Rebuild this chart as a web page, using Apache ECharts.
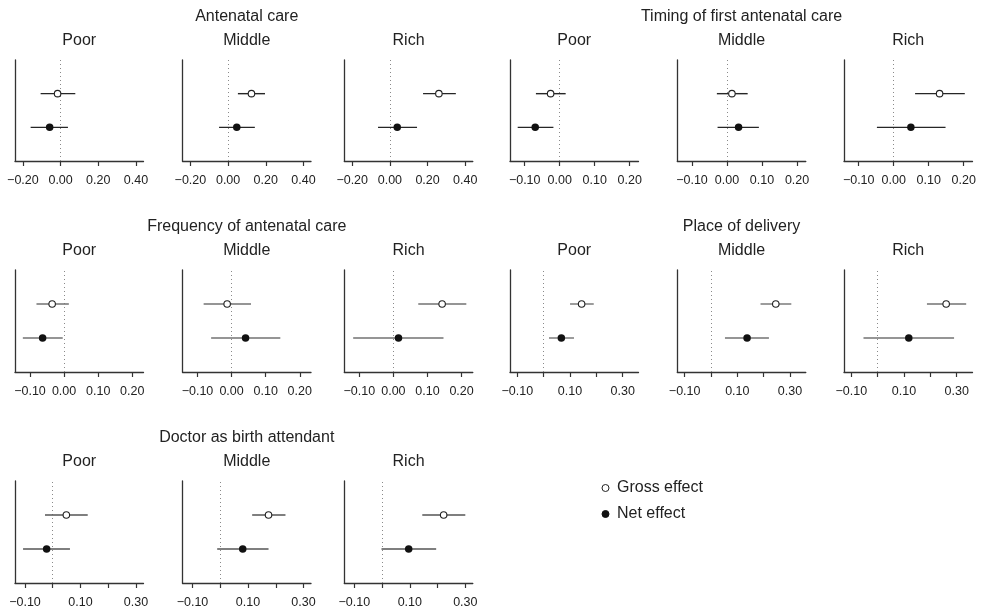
<!DOCTYPE html>
<html>
<head>
<meta charset="utf-8">
<script src="https://cdn.jsdelivr.net/npm/echarts@6/dist/echarts.min.js"></script>
<style>
html,body{margin:0;padding:0;background:#fff;}
#chart{width:985px;height:613px;}
</style>
</head>
<body>
<div id="chart"></div>
<script>
// ---- data ----
const outcomes = ["Antenatal care", "Timing of first antenatal care", "Frequency of antenatal care", "Place of delivery", "Doctor as birth attendant"];
const wealth = ["Poor", "Middle", "Rich"];
// order: outcome-major, wealth-minor (15 panels)
const grossEst = [-0.016, 0.124, 0.260,  -0.026, 0.014, 0.131,  -0.035, -0.013, 0.143,  0.144, 0.246, 0.260,  0.049, 0.174, 0.222];
const grossLo  = [-0.106, 0.052, 0.176,  -0.068, -0.029, 0.061, -0.081, -0.082, 0.073,  0.100, 0.188, 0.187, -0.028, 0.115, 0.145];
const grossHi  = [ 0.078, 0.196, 0.350,   0.017, 0.059, 0.203,   0.014, 0.057, 0.214,   0.190, 0.305, 0.336,  0.126, 0.235, 0.300];
const netEst   = [-0.058, 0.046, 0.039,  -0.070, 0.033, 0.049,  -0.063, 0.041, 0.015,   0.067, 0.137, 0.118, -0.022, 0.081, 0.096];
const netLo    = [-0.159, -0.048, -0.063, -0.120, -0.027, -0.048, -0.121, -0.060, -0.118, 0.020, 0.053, -0.054, -0.107, -0.011, -0.002];
const netHi    = [ 0.039, 0.142, 0.144,  -0.018, 0.091, 0.148,  -0.004, 0.143, 0.147,   0.115, 0.220, 0.290,  0.062, 0.174, 0.195];
// tick values per outcome
const tickValues = [
  [-0.2, 0, 0.2, 0.4],
  [-0.1, 0, 0.1, 0.2],
  [-0.1, 0, 0.1, 0.2],
  [-0.1, 0, 0.1, 0.2, 0.3],
  [-0.1, 0, 0.1, 0.2, 0.3]
];
const tickLabels = [
  [-0.2, 0, 0.2, 0.4],
  [-0.1, 0, 0.1, 0.2],
  [-0.1, 0, 0.1, 0.2],
  [-0.1, 0.1, 0.3],
  [-0.1, 0.1, 0.3]
];
const xRanges = [
  [-0.242, 0.440],
  [-0.142, 0.225],
  [-0.144, 0.233],
  [-0.128, 0.360],
  [-0.136, 0.327]
];
const legendNames = ["Gross effect", "Net effect"];

// ---- layout ----
const colLeft = [15, 182.5, 344.3, 510, 677.3, 844];
const panelW = 128.5;
const rowTop = [60, 270, 481];
const rowH = [101, 102, 102];
const ciColor = ['#262626', '#262626', '#727272', '#727272', '#555555'];
const FONT = 'Liberation Sans, Arial, Helvetica, sans-serif';

const grids = [], xAxes = [], yAxes = [], series = [], graphics = [];
function fmt(v) {
  const s = Math.abs(v).toFixed(2);
  return (v < -1e-9 ? '\u2212' : '') + s;
}
for (let o = 0; o < outcomes.length; o++) {
  const row = Math.floor(o / 2);
  const colBase = (o % 2) * 3;
  const midX = colLeft[colBase + 1] + panelW / 2;
  graphics.push({
    type: 'text', x: midX, y: rowTop[row] - 43,
    style: { text: outcomes[o], font: '16px ' + FONT, fill: '#222', align: 'center', verticalAlign: 'middle' }
  });
  for (let w = 0; w < 3; w++) {
    const i = o * 3 + w;
    const col = colBase + w;
    grids.push({ left: colLeft[col], top: rowTop[row], width: panelW, height: rowH[row], containLabel: false });
    graphics.push({
      type: 'text', x: colLeft[col] + panelW / 2, y: rowTop[row] - 19,
      style: { text: wealth[w], font: '16px ' + FONT, fill: '#222', align: 'center', verticalAlign: 'middle' }
    });
    xAxes.push({
      type: 'value', gridIndex: i, min: xRanges[o][0], max: xRanges[o][1],
      axisLine: { show: true, onZero: false, lineStyle: { color: '#333', width: 1.3 } },
      axisTick: { show: true, length: 5, customValues: tickValues[o], lineStyle: { color: '#333', width: 1.2 } },
      axisLabel: { show: true, customValues: tickLabels[o], formatter: fmt, margin: 13, color: '#222', fontSize: 12.5, fontFamily: FONT, showMinLabel: true, showMaxLabel: true, hideOverlap: false },
      splitLine: { show: false }
    });
    yAxes.push({
      type: 'value', gridIndex: i, min: 0, max: 3,
      axisLine: { show: true, onZero: false, lineStyle: { color: '#333', width: 1.3 } },
      axisTick: { show: false }, axisLabel: { show: false }, splitLine: { show: false }
    });
    series.push({
      type: 'custom', xAxisIndex: i, yAxisIndex: i, z: 2, silent: true,
      data: [[grossLo[i], grossHi[i], 2], [netLo[i], netHi[i], 1]],
      encode: { x: [0, 1], y: 2 },
      renderItem: function (params, api) {
        const a = api.coord([api.value(0), api.value(2)]);
        const b = api.coord([api.value(1), api.value(2)]);
        return { type: 'line', shape: { x1: a[0], y1: a[1], x2: b[0], y2: b[1] }, style: { stroke: ciColor[o], lineWidth: 1.4 } };
      }
    });
    series.push({
      type: 'scatter', name: legendNames[0], xAxisIndex: i, yAxisIndex: i, z: 3,
      symbol: 'circle', symbolSize: 6.5,
      itemStyle: { color: '#fff', borderColor: '#222', borderWidth: 1.1, opacity: 1 },
      data: [[grossEst[i], 2]],
      markLine: {
        silent: true, symbol: ['none', 'none'], label: { show: false }, z: 1,
        lineStyle: { type: [1, 3], color: '#8a8a8a', width: 1 },
        data: [{ xAxis: 0 }]
      }
    });
    series.push({
      type: 'scatter', name: legendNames[1], xAxisIndex: i, yAxisIndex: i, z: 3,
      symbol: 'circle', symbolSize: 7.5,
      itemStyle: { color: '#111', borderColor: '#111', borderWidth: 0, opacity: 1 },
      data: [[netEst[i], 1]]
    });
  }
}

const chart = echarts.init(document.getElementById('chart'), null, { renderer: 'canvas' });
chart.setOption({
  animation: false,
  backgroundColor: '#fff',
  grid: grids,
  xAxis: xAxes,
  yAxis: yAxes,
  series: series,
  graphic: graphics,
  legend: {
    data: legendNames,
    orient: 'vertical',
    left: 601.5, top: 480, padding: 0,
    itemWidth: 7, itemHeight: 7, itemGap: 10,
    icon: 'circle',
    selectedMode: false,
    itemStyle: { borderWidth: 1 },
    textStyle: { fontSize: 16, fontFamily: FONT, color: '#222', lineHeight: 16, padding: [0, 0, 0, 3] }
  }
});
</script>
</body>
</html>
